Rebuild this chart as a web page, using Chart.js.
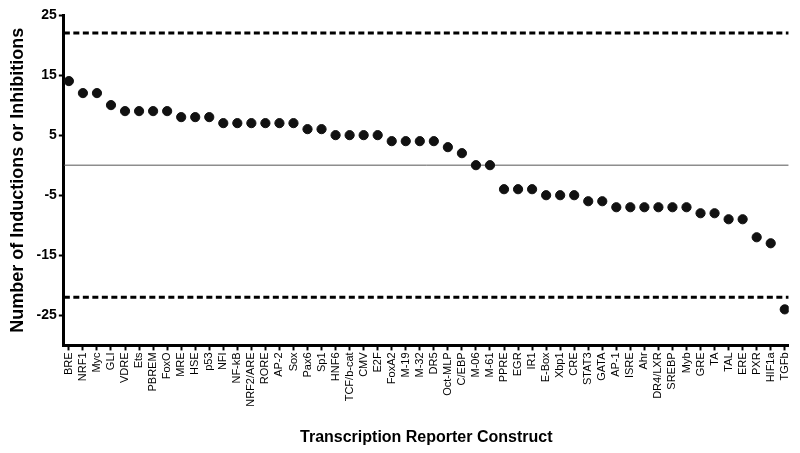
<!DOCTYPE html>
<html>
<head>
<meta charset="utf-8">
<script src="https://cdn.jsdelivr.net/npm/chart.js@4/dist/chart.umd.min.js"></script>
<style>
  html, body { margin: 0; padding: 0; background: #fff; }
  #wrap { width: 800px; height: 453px; position: relative; }
</style>
</head>
<body>
<div id="wrap"><canvas id="chart"></canvas></div>
<script>
// Reporter constructs, in the order they appear along the x axis
const constructs = ['BRE', 'NRF1', 'Myc', 'GLI', 'VDRE', 'Ets', 'PBREM', 'FoxO', 'MRE', 'HSE',
  'p53', 'NFI', 'NF-kB', 'NRF2/ARE', 'RORE', 'AP-2', 'Sox', 'Pax6', 'Sp1', 'HNF6',
  'TCF/b-cat', 'CMV', 'E2F', 'FoxA2', 'M-19', 'M-32', 'DR5', 'Oct-MLP', 'C/EBP', 'M-06',
  'M-61', 'PPRE', 'EGR', 'IR1', 'E-Box', 'Xbp1', 'CRE', 'STAT3', 'GATA', 'AP-1',
  'ISRE', 'Ahr', 'DR4/LXR', 'SREBP', 'Myb', 'GRE', 'TA', 'TAL', 'ERE', 'PXR',
  'HIF1a', 'TGFb'];

// Net number of inductions (+) or inhibitions (-)
const counts = [14, 12, 12, 10, 9, 9, 9, 9, 8, 8,
  8, 7, 7, 7, 7, 7, 7, 6, 6, 5,
  5, 5, 5, 4, 4, 4, 4, 3, 2, 0,
  0, -4, -4, -4, -5, -5, -5, -6, -6, -7,
  -7, -7, -7, -7, -7, -8, -8, -9, -9, -12,
  -13, -24];

const upperLimit = [22, 22];
const lowerLimit = [-22, -22];
const zeroLine = [0, 0];
const yTicks = [-25, -15, -5, 5, 15, 25];

const xMin = -0.36;
const xMax = 51.28;

function hline(values, color, width, dash) {
  return {
    type: 'line',
    data: [{ x: xMin, y: values[0] }, { x: xMax, y: values[1] }],
    borderColor: color,
    borderWidth: width,
    borderDash: dash,
    pointRadius: 0,
    fill: false,
    order: 2
  };
}

const ctx = document.getElementById('chart').getContext('2d');
new Chart(ctx, {
  type: 'scatter',
  data: {
    datasets: [
      {
        data: counts.map((v, i) => ({ x: i, y: v })),
        backgroundColor: '#111',
        borderColor: '#111',
        pointRadius: 4.6,
        order: 1
      },
      hline(upperLimit, '#000', 3, [6, 3.5]),
      hline(lowerLimit, '#000', 3, [6, 3.5]),
      hline(zeroLine, '#555', 1, [])
    ]
  },
  options: {
    responsive: true,
    maintainAspectRatio: false,
    animation: false,
    layout: { padding: { top: 15, right: 9, left: 7, bottom: 6 } },
    plugins: {
      legend: { display: false },
      tooltip: { enabled: false }
    },
    scales: {
      x: {
        type: 'linear',
        min: xMin,
        max: xMax,
        afterBuildTicks: scale => {
          scale.ticks = constructs.map((_, i) => ({ value: i }));
        },
        ticks: {
          autoSkip: false,
          maxRotation: 90,
          minRotation: 90,
          padding: 2,
          color: '#000',
          font: { family: 'Liberation Sans', size: 11 },
          callback: value => constructs[value]
        },
        grid: {
          drawOnChartArea: false,
          drawTicks: true,
          tickLength: 5,
          tickWidth: 2,
          tickColor: '#000'
        },
        border: { display: true, color: '#000', width: 3 },
        title: {
          display: true,
          text: 'Transcription Reporter Construct',
          color: '#000',
          font: { family: 'Liberation Sans', size: 16, weight: 'bold' },
          padding: { top: 19, bottom: 0 }
        }
      },
      y: {
        min: -30,
        max: 25,
        afterBuildTicks: scale => {
          scale.ticks = yTicks.map(v => ({ value: v }));
        },
        ticks: {
          padding: 2,
          color: '#000',
          font: { family: 'Liberation Sans', size: 14, weight: 'bold' }
        },
        grid: {
          drawOnChartArea: false,
          drawTicks: true,
          tickLength: 5,
          tickWidth: 2,
          tickColor: '#000'
        },
        border: { display: true, color: '#000', width: 3 },
        title: {
          display: true,
          text: 'Number of Inductions or Inhibitions',
          color: '#000',
          font: { family: 'Liberation Sans', size: 18, weight: 'bold' },
          padding: { top: 0, bottom: 6 }
        }
      }
    }
  }
});
</script>
</body>
</html>
